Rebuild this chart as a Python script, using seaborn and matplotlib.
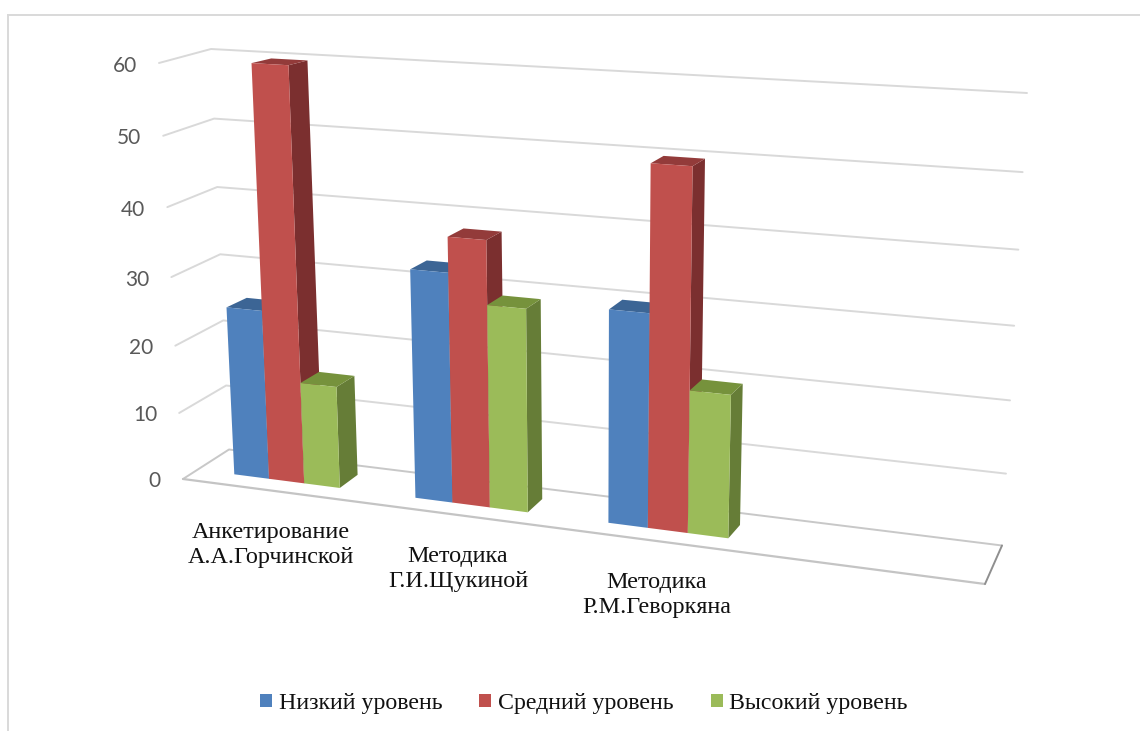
import numpy as np
import pandas as pd
import seaborn as sns
import matplotlib
matplotlib.use("Agg")
import matplotlib.pyplot as plt
from matplotlib.patches import Polygon
from matplotlib.transforms import Affine2D, Transform

# Survey results, percent of respondents per level
methods = ["Анкетирование\nА.А.Горчинской", "Методика\nГ.И.Щукиной", "Методика\nР.М.Геворкяна"]
levels = ["Низкий уровень", "Средний уровень", "Высокий уровень"]
low = [25, 33, 30]
medium = [60, 38, 50]
high = [15, 29, 20]
axis_ticks = [0, 10, 20, 30, 40, 50, 60]

front_colors = ["#4F81BD", "#C0504D", "#9BBB59"]
top_colors = ["#3C6595", "#933B3A", "#76923C"]
side_colors = ["#34577F", "#7B2F2F", "#667D37"]

W, H = 1140, 731
BAR_WIDTH = 0.59
X0, X1 = -0.5, 3.5   # floor span in category units
V0, V1 = 0, 60


class PlanePerspective(Transform):
    """Projective map of a (category, value) rectangle onto a quadrilateral in pixels."""
    input_dims = output_dims = 2
    is_separable = False
    has_inverse = False

    def __init__(self, xr, vr, corners):
        super().__init__()
        src = [(xr[0], vr[0]), (xr[1], vr[0]), (xr[0], vr[1]), (xr[1], vr[1])]
        rows, rhs = [], []
        for (x, y), (u, w) in zip(src, corners):
            rows.append([x, y, 1, 0, 0, 0, -u * x, -u * y])
            rows.append([0, 0, 0, x, y, 1, -w * x, -w * y])
            rhs += [u, w]
        self.m = np.append(np.linalg.solve(np.array(rows, float), np.array(rhs, float)), 1).reshape(3, 3)

    def transform_non_affine(self, values):
        pts = np.column_stack([values, np.ones(len(values))]) @ self.m.T
        return pts[:, :2] / pts[:, 2:]

    def at(self, x, v):
        return self.transform_non_affine(np.array([[x, v]], float))[0]


# Wall planes: front edge of the floor and back wall of the chart box
wall_front = PlanePerspective((X0, X1), (V0, V1), [(183, 479), (985, 584), (159, 63), (1013, 112)])
wall_back = PlanePerspective((X0, X1), (V0, V1), [(229, 449.5), (1002, 545.5), (211, 49), (1027, 93)])

# Bar planes: the front and rear faces of the columns
bx0, bx1 = -BAR_WIDTH / 2, 2 + BAR_WIDTH / 2
bars_front = PlanePerspective((bx0, bx1), (V0, V1), [(234.3, 474.3), (728.3, 538.3), (215, 61), (736.5, 91)])
bars_back = PlanePerspective((bx0, bx1), (V0, V1), [(254.3, 461.3), (740, 525), (235.5, 56.5), (748.5, 84.5)])

sns.set_theme(style="white")
plt.rcParams["font.family"] = ["Liberation Serif", "DejaVu Sans"]

fig = plt.figure(figsize=(W / 100, H / 100), dpi=100, facecolor="white")
ax = fig.add_axes([7.5 / W, -0.05, 1.05, 1 + 0.05 - 14.5 / H])
to_display = Affine2D().scale(1, -1).translate(0, H)

table = pd.DataFrame({
    "method": methods * 3,
    "level": [lv for lv in levels for _ in methods],
    "value": low + medium + high,
})
sns.barplot(data=table, x="method", y="value", hue="level", hue_order=levels, order=methods,
            palette=front_colors, saturation=1, width=BAR_WIDTH, linewidth=0, ax=ax, errorbar=None)

legend = sns.move_legend(ax, "center", bbox_to_anchor=(584 / W, (H - 703.5) / H),
                         bbox_transform=fig.transFigure, ncol=3, frameon=False, title=None,
                         fontsize=17.2, handlelength=0.5, handleheight=0.5, handletextpad=0.28,
                         columnspacing=1.55, labelcolor="#111111")

ax.set_xlabel("")
ax.set_ylabel("")
ax.set_xticks([])
ax.set_yticks([])
for name in ["right", "bottom"]:
    ax.spines[name].set_visible(False)
for name in ["top", "left"]:
    ax.spines[name].set_visible(True)
    ax.spines[name].set_color("#D9D9D9")
    ax.spines[name].set_linewidth(1.4)


def wall_line(points, color="#D9D9D9", lw=1.4, zorder=1):
    xs, ys = zip(*points)
    ax.plot(xs, ys, color=color, lw=lw, transform=to_display, clip_on=False,
            solid_capstyle="round", solid_joinstyle="round", zorder=zorder)


# Chart box: gridlines running along the left wall and the back wall
for v in axis_ticks[1:]:
    wall_line([wall_front.at(X0, v), wall_back.at(X0, v), wall_back.at(X1, v)])
wall_line([wall_front.at(X0, 0), wall_back.at(X0, 0), wall_back.at(X1, 0)], color="#C8C8C8")
wall_line([wall_front.at(X0, 0), wall_front.at(X1, 0)], color="#C4C4C4", lw=1.6)
wall_line([wall_front.at(X1, 0), wall_back.at(X1, 0)], color="#8F8F8F", lw=1.4)

# Columns: the seaborn bars become front faces, sides and tops are added from the same geometry
for hue_i, container in enumerate(ax.containers):
    for cat_i, bar in enumerate(container):
        x1, x2, h = bar.get_x(), bar.get_x() + bar.get_width(), bar.get_height()
        order = 10 + cat_i * 10 + hue_i * 2
        bar.set_transform(bars_front + to_display)
        bar.set_clip_on(False)
        bar.set_antialiased(True)
        bar.set_zorder(order + 1)
        side = [bars_front.at(x2, 0), bars_front.at(x2, h), bars_back.at(x2, h), bars_back.at(x2, 0)]
        top = [bars_front.at(x1, h), bars_front.at(x2, h), bars_back.at(x2, h), bars_back.at(x1, h)]
        ax.add_patch(Polygon(side, closed=True, fc=side_colors[hue_i], ec="none",
                             transform=to_display, clip_on=False, zorder=order))
        ax.add_patch(Polygon(top, closed=True, fc=top_colors[hue_i], ec="none",
                             transform=to_display, clip_on=False, zorder=order))

# Value axis labels follow the slanted front edge of the left wall
for v in axis_ticks:
    px, py = wall_front.at(X0, v)
    ax.text(px - 22, py + 2.5, str(v), transform=to_display, ha="right", va="center",
            family="Lato", fontsize=15, color="#595959", clip_on=False)

# Category labels stepping down along the floor
label_anchors = [(271, 545), (458, 569), (657, 595)]
for text, (px, py) in zip(methods, label_anchors):
    ax.text(px, py, text, transform=to_display, ha="center", va="center", fontsize=17.4,
            color="#111111", linespacing=1.23, clip_on=False)

fig.savefig("out.png", dpi=100, facecolor="white")
